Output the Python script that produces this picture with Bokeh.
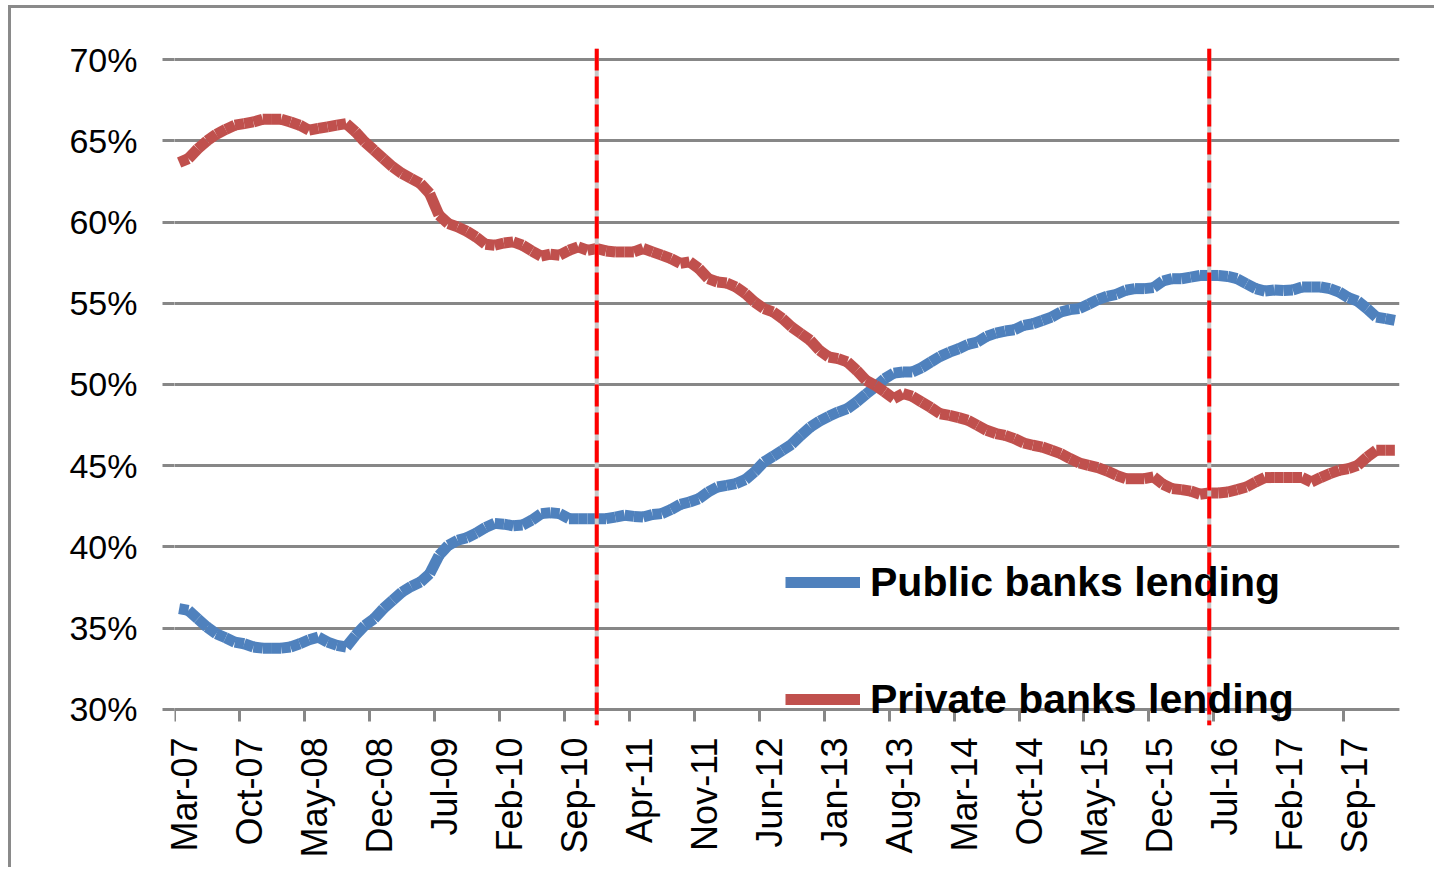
import math
import pandas as pd
from bokeh.plotting import figure
from bokeh.models import (Range1d, FixedTicker, Span, Legend, LegendItem, Grid,
                          ColumnDataSource, PrintfTickFormatter, LinearAxis)
from bokeh.embed import file_html
from bokeh.resources import INLINE

# ---------------- data ----------------
months = list(pd.date_range("2007-03-01", periods=132, freq="MS").strftime("%b-%y"))

tick_labels = ["Mar-07", "Oct-07", "May-08", "Dec-08", "Jul-09", "Feb-10", "Sep-10",
               "Apr-11", "Nov-11", "Jun-12", "Jan-13", "Aug-13", "Mar-14", "Oct-14",
               "May-15", "Dec-15", "Jul-16", "Feb-17", "Sep-17"]

public = [36.2, 36.1, 35.58, 35.07, 34.66, 34.41, 34.14, 34.04, 33.84, 33.77,
          33.77, 33.77, 33.84, 34.04, 34.29, 34.45, 34.14, 33.94, 33.84, 34.56,
          35.17, 35.58, 36.2, 36.71, 37.22, 37.57, 37.84, 38.35, 39.48, 40.1,
          40.41, 40.57, 40.85, 41.2, 41.45, 41.4, 41.3, 41.35, 41.65, 42.05,
          42.1, 42.05, 41.74, 41.74, 41.74, 41.74, 41.74, 41.84, 41.95, 41.88,
          41.84, 42.0, 42.05, 42.3, 42.62, 42.77, 42.97, 43.38, 43.69, 43.79,
          43.9, 44.14, 44.62, 45.23, 45.58, 45.95, 46.32, 46.87, 47.38, 47.75,
          48.04, 48.3, 48.51, 48.92, 49.4, 49.85, 50.35, 50.7, 50.77, 50.77,
          51.03, 51.38, 51.73, 51.99, 52.2, 52.47, 52.61, 52.96, 53.16, 53.29,
          53.37, 53.64, 53.74, 53.94, 54.15, 54.46, 54.61, 54.67, 54.94, 55.22,
          55.43, 55.55, 55.8, 55.9, 55.9, 55.96, 56.37, 56.51, 56.51, 56.61,
          56.71, 56.71, 56.71, 56.65, 56.51, 56.2, 55.9, 55.75, 55.82, 55.78,
          55.82, 56.0, 56.0, 56.0, 55.9, 55.69, 55.34, 55.13, 54.67, 54.15,
          54.05, 53.94]

private = [63.66, 63.9, 64.5, 65.0, 65.4, 65.7, 65.96, 66.06, 66.16, 66.33,
           66.33, 66.33, 66.16, 65.96, 65.65, 65.76, 65.86, 65.96, 66.06, 65.55,
           64.93, 64.42, 63.9, 63.4, 62.99, 62.68, 62.37, 61.75, 60.42, 59.9,
           59.7, 59.43, 59.08, 58.63, 58.57, 58.71, 58.78, 58.57, 58.22, 57.9,
           58.02, 57.96, 58.26, 58.47, 58.26, 58.37, 58.22, 58.16, 58.16, 58.16,
           58.37, 58.16, 57.96, 57.75, 57.45, 57.55, 57.14, 56.52, 56.31, 56.25,
           56.0, 55.6, 55.08, 54.67, 54.47, 54.06, 53.54, 53.13, 52.72, 52.1,
           51.69, 51.59, 51.39, 50.87, 50.26, 49.95, 49.55, 49.13, 49.44, 49.27,
           48.92, 48.58, 48.2, 48.1, 47.96, 47.8, 47.49, 47.18, 46.98, 46.87,
           46.67, 46.4, 46.26, 46.15, 45.95, 45.74, 45.44, 45.17, 45.02, 44.88,
           44.67, 44.41, 44.2, 44.2, 44.2, 44.31, 43.86, 43.59, 43.53, 43.44,
           43.24, 43.32, 43.32, 43.38, 43.53, 43.69, 44.0, 44.27, 44.27, 44.27,
           44.27, 44.27, 44.0, 44.27, 44.51, 44.72, 44.82, 45.02, 45.53, 45.95,
           45.95, 45.95]

y_ticks = [30, 35, 40, 45, 50, 55, 60, 65, 70]
events = ["Dec-10", "Jun-16"]

# ---------------- styling ----------------
BLUE = "#4F81BD"
RED = "#C0504D"
GRAY = "#878787"
FONT = "Liberation Sans"

x = list(range(len(months)))
n = len(months)
y_lo, y_hi = y_ticks[0], y_ticks[-1]

p = figure(width=1426, height=862,
           x_range=Range1d(-0.5, n - 0.5),
           y_range=Range1d(y_lo - 0.99, y_hi + 0.68),
           x_axis_location=None, y_axis_location=None,
           output_backend="svg", toolbar_location=None,
           min_border_left=163, min_border_right=38,
           min_border_top=40, min_border_bottom=145)
p.styles = {"margin-left": "8px", "margin-top": "5px",
            "border-left": "3px solid #8a8a8a", "border-top": "3px solid #8a8a8a"}
p.outline_line_color = None
p.background_fill_color = "white"
p.border_fill_color = "white"
for g in p.grid:
    g.visible = False

# horizontal gridlines (the 30% one doubles as the x-axis line)
p.add_layout(Grid(dimension=1, ticker=FixedTicker(ticks=y_ticks),
                  grid_line_color=GRAY, grid_line_width=3))
# y-axis line, limited to the value range
p.add_layout(Grid(dimension=0, ticker=FixedTicker(ticks=[-0.5]), bounds=(y_lo, y_hi),
                  grid_line_color=GRAY, grid_line_width=3))

# y axis (ticks + labels)
ya = LinearAxis(ticker=FixedTicker(ticks=y_ticks),
                formatter=PrintfTickFormatter(format="%d%%"))
ya.axis_line_color = None
ya.major_tick_line_color = GRAY
ya.major_tick_line_width = 3
ya.major_tick_out = 12
ya.major_tick_in = 0
ya.minor_tick_line_color = None
ya.major_label_standoff = 25
ya.major_label_text_font = FONT
ya.major_label_text_font_size = "34px"
ya.major_label_text_color = "black"
p.add_layout(ya, "left")

# x axis labels (labels only)
lab_pos = [months.index(t) + 0.6 for t in tick_labels]
xl = LinearAxis(ticker=FixedTicker(ticks=lab_pos),
                major_label_overrides={pp: t for pp, t in zip(lab_pos, tick_labels)})
xl.axis_line_color = None
xl.major_tick_line_color = None
xl.minor_tick_line_color = None
xl.major_tick_out = 0
xl.major_tick_in = 0
xl.major_label_orientation = math.pi / 2
xl.major_label_standoff = 12
xl.major_label_text_font = FONT
xl.major_label_text_font_size = "36px"
xl.major_label_text_color = "black"
p.add_layout(xl, "below")

# x axis tick marks at category boundaries, drawn on the 30% line
tick_pos = [months.index(t) - 0.5 for t in tick_labels]
xa = LinearAxis(ticker=FixedTicker(ticks=tick_pos), fixed_location=y_lo,
                major_label_overrides={t: "" for t in tick_pos})
xa.major_label_text_font_size = "1px"
xa.major_label_standoff = 0
xa.axis_line_color = GRAY
xa.axis_line_width = 3
xa.major_tick_line_color = GRAY
xa.major_tick_line_width = 3
xa.major_tick_out = 12
xa.major_tick_in = 0
xa.minor_tick_line_color = None
p.add_layout(xa, "below")

# series as thick segments (Excel square-dot look)
def seg_source(vals):
    return ColumnDataSource(dict(x0=x[:-1], y0=vals[:-1], x1=x[1:], y1=vals[1:]))

r_pub = p.segment("x0", "y0", "x1", "y1", source=seg_source(public),
                  line_color=BLUE, line_width=11, line_cap="butt")
r_priv = p.segment("x0", "y0", "x1", "y1", source=seg_source(private),
                   line_color=RED, line_width=11, line_cap="butt")

# event lines
for ev in events:
    xe = months.index(ev)
    p.add_layout(Span(location=xe, dimension="height", line_color="#c8c8c8",
                      line_width=4, level="overlay"))
    p.add_layout(Span(location=xe, dimension="height", line_color="#FF0000",
                      line_width=4, line_dash="22 6", level="overlay"))

legend = Legend(items=[LegendItem(label="Public banks lending", renderers=[r_pub]),
                       LegendItem(label="Private banks lending", renderers=[r_priv])],
                location=(611, -4), orientation="vertical",
                glyph_width=75, glyph_height=60, label_height=60, spacing=57,
                label_standoff=10, padding=0, margin=0,
                border_line_color=None, background_fill_alpha=0,
                label_text_font=FONT, label_text_font_style="bold",
                label_text_font_size="41px", label_text_color="black")
p.add_layout(legend)

open("out.html", "w").write(file_html(p, INLINE))
